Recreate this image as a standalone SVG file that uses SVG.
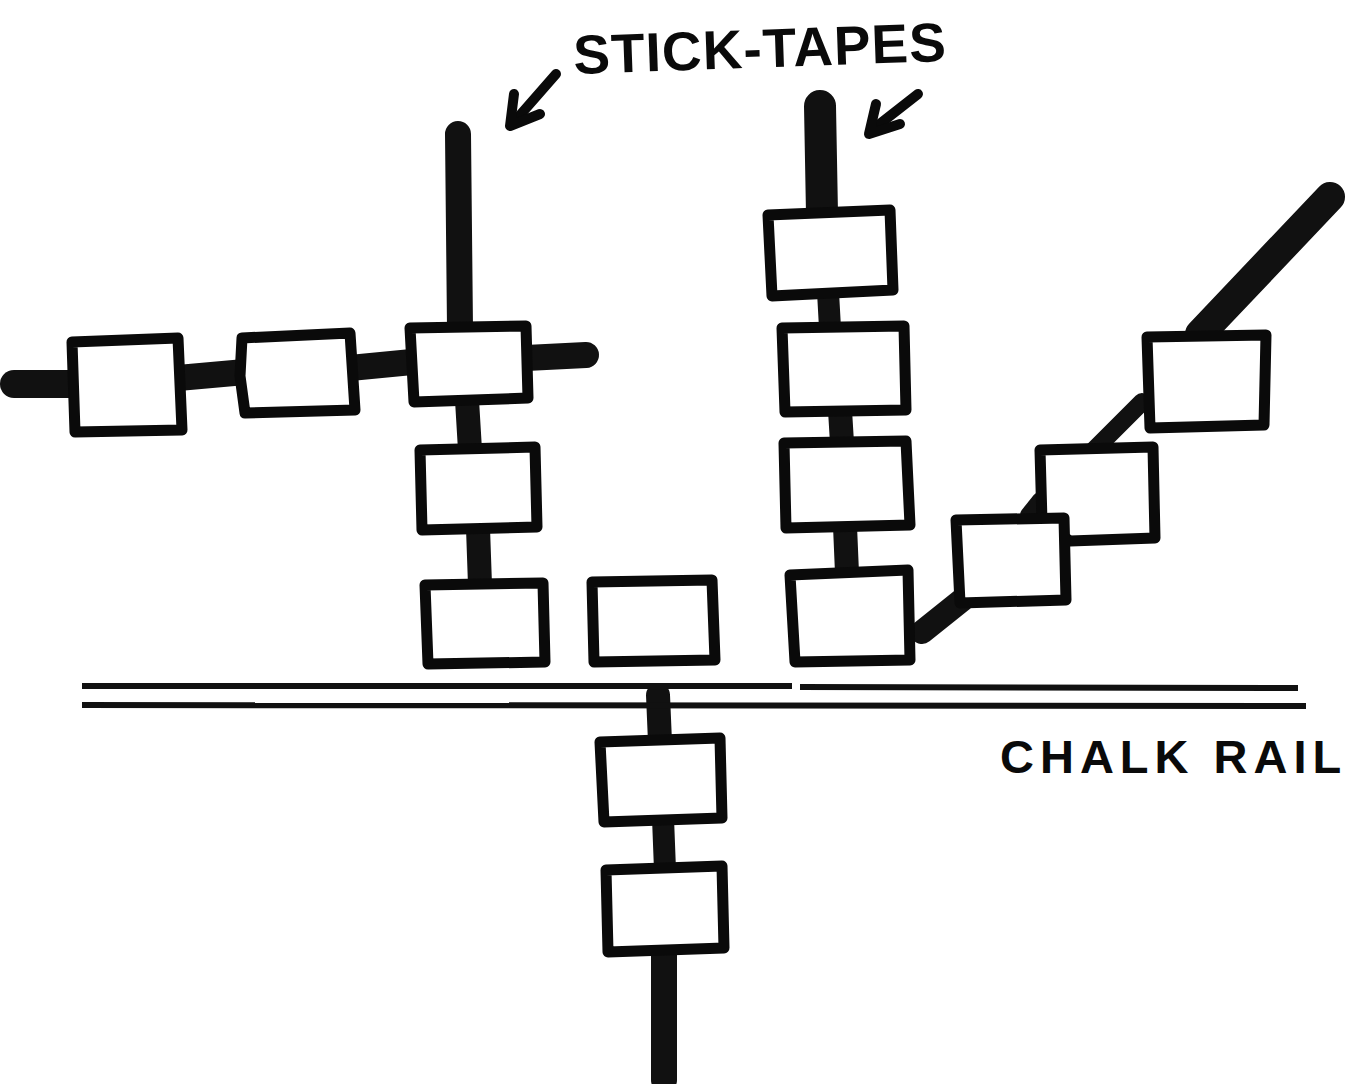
<svg xmlns="http://www.w3.org/2000/svg" width="1352" height="1084" viewBox="0 0 1352 1084">
<style>
.stick{stroke:#111;fill:none;stroke-linecap:round}
.box{fill:#fff;stroke:#0a0a0a;stroke-width:11;stroke-linejoin:round}
.rail{stroke:#111;stroke-width:6;fill:none}
.lbl{font-family:"Liberation Sans",Arial,sans-serif;font-weight:bold;fill:#0a0a0a}
.arr{stroke:#0a0a0a;stroke-width:10;fill:none;stroke-linecap:round;stroke-linejoin:round}
</style>
<rect width="1352" height="1084" fill="#fff"/>
<g id="connectors">
  <!-- left horizontal tape -->
  <path class="stick" d="M14 384 L75 384" stroke-width="28" stroke-linecap="butt"/>
  <path class="stick" d="M178 378 L245 372" stroke-width="26"/>
  <path class="stick" d="M350 368 L412 362" stroke-width="26"/>
  <path class="stick" d="M526 358 L586 355" stroke-width="26"/>
  <!-- left vertical tape -->
  <path class="stick" d="M458 134 L460 328" stroke-width="26"/>
  <path class="stick" d="M467 400 L470 450" stroke-width="24"/>
  <path class="stick" d="M478 528 L480 585" stroke-width="24"/>
  <!-- right vertical tape -->
  <path class="stick" d="M820 106 L822 214" stroke-width="32" stroke-linecap="butt"/>
  <path class="stick" d="M828 292 L830 328" stroke-width="22"/>
  <path class="stick" d="M840 410 L842 443" stroke-width="24"/>
  <path class="stick" d="M845 526 L847 573" stroke-width="24"/>
  <!-- diagonal tape -->
  <path class="stick" d="M1330 197 L1200 334" stroke-width="30" stroke-linecap="butt"/>
  <path class="stick" d="M1142 402 L1092 452" stroke-width="18"/>
  <path class="stick" d="M1028 515 L1040 500" stroke-width="16"/>
  <path class="stick" d="M922 632 L962 600" stroke-width="24" stroke-linecap="butt"/>
  <!-- bottom tape -->
  <path class="stick" d="M658 695 L660 742" stroke-width="24"/>
  <path class="stick" d="M663 818 L665 870" stroke-width="22"/>
  <path class="stick" d="M664 948 L664 1080" stroke-width="26" stroke-linecap="butt"/>
  <!-- arrows -->
  <path class="arr" d="M556 74 L514 122"/>
  <path class="arr" d="M514 94 L510 126 L540 114"/>
  <path class="arr" d="M918 94 L872 130"/>
  <path class="arr" d="M876 104 L869 134 L900 124"/>
</g>
<g id="chalk-rail">
  <path class="rail" d="M82 686 L792 686 M800 687 L1298 688"/>
  <path class="rail" d="M82 705 L1306 706"/>
</g>
<g id="box-l1"><polygon class="box" points="72,342 178,338 182,430 75,432"/></g>
<g id="box-l2"><polygon class="box" points="242,338 350,333 355,410 245,413 240,376"/></g>
<g id="box-l3"><polygon class="box" points="410,328 526,326 528,398 414,402"/></g>
<g id="box-l4"><polygon class="box" points="420,450 535,447 537,527 422,530"/></g>
<g id="box-l5"><polygon class="box" points="425,585 543,583 545,662 428,664"/></g>
<g id="box-mid"><polygon class="box" points="592,582 712,580 715,660 594,662"/></g>
<g id="box-r1"><polygon class="box" points="768,215 890,210 893,290 772,296"/></g>
<g id="box-r2"><polygon class="box" points="782,328 904,326 906,410 785,412"/></g>
<g id="box-r3"><polygon class="box" points="784,443 906,441 910,525 786,528"/></g>
<g id="box-r4"><polygon class="box" points="790,575 908,570 910,660 795,662"/></g>
<g id="box-d1"><polygon class="box" points="1147,337 1266,335 1264,425 1150,428"/></g>
<g id="box-d2"><polygon class="box" points="1040,450 1153,447 1155,538 1070,541 1042,522"/></g>
<g id="box-d3"><polygon class="box" points="956,520 1064,518 1066,600 960,603"/></g>
<g id="box-b1"><polygon class="box" points="600,742 720,738 722,818 604,822"/></g>
<g id="box-b2"><polygon class="box" points="606,870 722,866 724,948 608,952"/></g>
<text class="lbl" x="574" y="74" font-size="55" letter-spacing="1" transform="rotate(-2 574 74)">STICK-TAPES</text>
<text class="lbl" x="1000" y="773" font-size="47" letter-spacing="6">CHALK RAIL</text>
</svg>
